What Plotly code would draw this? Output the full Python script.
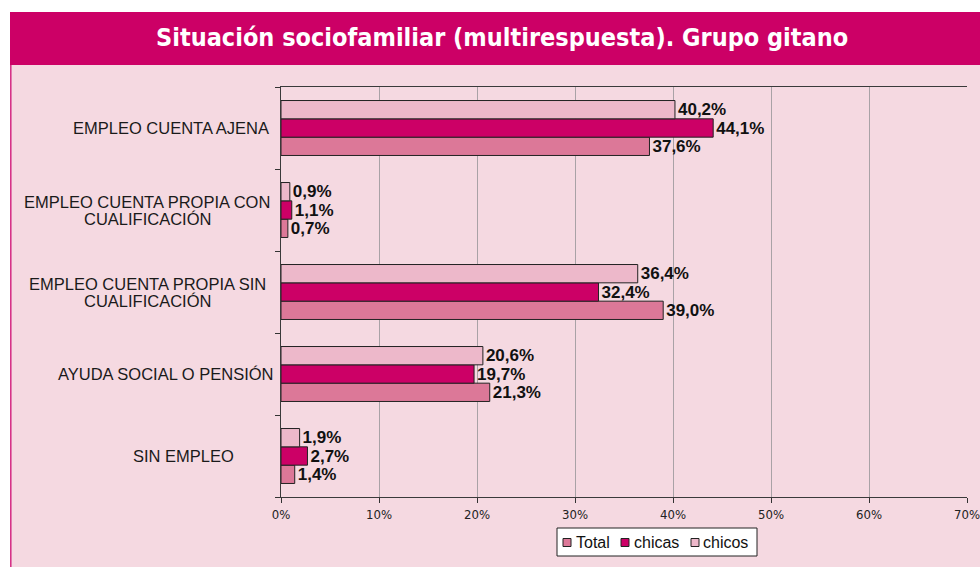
import plotly.graph_objects as go

categories = [
    "EMPLEO CUENTA AJENA",
    "EMPLEO CUENTA PROPIA CON<br>CUALIFICACIÓN",
    "EMPLEO CUENTA PROPIA SIN<br>CUALIFICACIÓN",
    "AYUDA SOCIAL O PENSIÓN",
    "SIN EMPLEO",
]
total = [37.6, 0.7, 39.0, 21.3, 1.4]
chicas = [44.1, 1.1, 32.4, 19.7, 2.7]
chicos = [40.2, 0.9, 36.4, 20.6, 1.9]
x_ticks = [0, 10, 20, 30, 40, 50, 60, 70]
x_tick_text = ["0%", "10%", "20%", "30%", "40%", "50%", "60%", "70%"]

title_text = "Situación sociofamiliar (multirespuesta). Grupo gitano"

# ---- layout geometry (pixels) ----
W, H = 980, 567
L, R, T, B = 281, 967, 87, 497
label_cx_px = [171, 147, 147, 165, 183]
line_step_px = 17
legend_box_px = (557, 757, 528, 556)
legend_swatch_x_px = [563, 621, 691]
legend_text_x_px = [574, 632, 701]


def px_x(p):
    return (p - L) / (R - L)


def px_y(p):
    return (B - p) / (B - T)


MAGENTA = "#CC0066"
TOTAL_C = "#DC7898"
CHICOS_C = "#EDB8CA"
PANEL = "#F5D9E1"
ARIAL = "Liberation Sans, Arial, sans-serif"

fig = go.Figure()
series = [("Total", total, TOTAL_C), ("chicas", chicas, MAGENTA), ("chicos", chicos, CHICOS_C)]
for name, vals, col in series:
    fig.add_trace(go.Bar(
        y=categories, x=vals, name=name, orientation="h", showlegend=False,
        marker=dict(color=col, line=dict(color="#222222", width=1)),
        texttemplate="%{x:.1f}%", textposition="outside",
        constraintext="none", cliponaxis=False,
        textfont=dict(family=ARIAL, size=17, color="#111111", weight="bold"),
    ))

shapes = [
    dict(type="rect", xref="paper", yref="paper", x0=px_x(10), x1=px_x(W + 5),
         y0=px_y(H + 5), y1=px_y(65), fillcolor=PANEL, line=dict(width=0), layer="below"),
    dict(type="rect", xref="paper", yref="paper", x0=px_x(10), x1=px_x(W + 5),
         y0=px_y(65), y1=px_y(12), fillcolor=MAGENTA, line=dict(width=0), layer="below"),
    dict(type="line", xref="paper", yref="paper", x0=px_x(10.8), x1=px_x(10.8),
         y0=px_y(H + 5), y1=px_y(65), line=dict(color="#D42A84", width=1.5), layer="below"),
]

annotations = [
    dict(text=title_text, xref="paper", yref="paper", x=px_x(502), y=px_y(38),
         xanchor="center", yanchor="middle", showarrow=False,
         font=dict(family="DejaVu Sans Condensed, DejaVu Sans, sans-serif", size=25,
                   color="white", weight="bold")),
]
for cat, cx in zip(categories, label_cx_px):
    lines = cat.split("<br>")
    n = len(lines)
    for i, ln in enumerate(lines):
        annotations.append(dict(
            text=ln, xref="paper", yref="y", x=px_x(cx), y=cat,
            yshift=((n - 1) / 2 - i) * line_step_px,
            xanchor="center", yanchor="middle", showarrow=False,
            font=dict(family=ARIAL, size=16.5, color="#1a1a1a"),
        ))

# custom legend
bx0, bx1, by0, by1 = legend_box_px
shapes.append(dict(type="rect", xref="paper", yref="paper", x0=px_x(bx0), x1=px_x(bx1),
                   y0=px_y(by1), y1=px_y(by0), fillcolor="white",
                   line=dict(color="#222222", width=1)))
ymid = (by0 + by1) / 2 + 0.5
for (name, _, col), sx, tx in zip(series, legend_swatch_x_px, legend_text_x_px):
    shapes.append(dict(type="rect", xref="paper", yref="paper", x0=px_x(sx), x1=px_x(sx + 8),
                       y0=px_y(ymid + 4), y1=px_y(ymid - 4), fillcolor=col,
                       line=dict(color="#222222", width=1)))
    annotations.append(dict(text=name, xref="paper", yref="paper", x=px_x(tx), y=px_y(ymid),
                            xanchor="left", yanchor="middle", showarrow=False,
                            font=dict(family=ARIAL, size=16, color="#111111")))

fig.update_layout(
    width=W, height=H, autosize=False,
    margin=dict(l=L, r=W - R, t=T, b=H - B, pad=0, autoexpand=False),
    paper_bgcolor="white", plot_bgcolor="rgba(0,0,0,0)",
    barmode="group", bargap=0.33, bargroupgap=0,
    separators=",.",
    showlegend=False,
    xaxis=dict(range=[0, 70], tickvals=x_ticks, ticktext=x_tick_text, ticks="outside",
               ticklen=5, tickcolor="#333333", showgrid=True, gridcolor="#A9A2A6",
               gridwidth=1, showline=True, linecolor="#3a3a3a", linewidth=1.2,
               mirror=True, zeroline=False, automargin=False,
               tickfont=dict(family="DejaVu Sans Condensed, DejaVu Sans, sans-serif",
                             size=13, color="#222222")),
    yaxis=dict(categoryorder="array", categoryarray=categories[::-1],
               showticklabels=False, ticks="outside", tickson="boundaries",
               ticklen=5, tickcolor="#333333", showgrid=False, automargin=False,
               showline=True, linecolor="#3a3a3a", linewidth=1.2),
    shapes=shapes, annotations=annotations,
)

fig.write_html(
    "out.html",
    config={"responsive": False, "displayModeBar": False},
    post_script="document.body.style.margin='0';document.body.style.overflow='hidden';",
)
